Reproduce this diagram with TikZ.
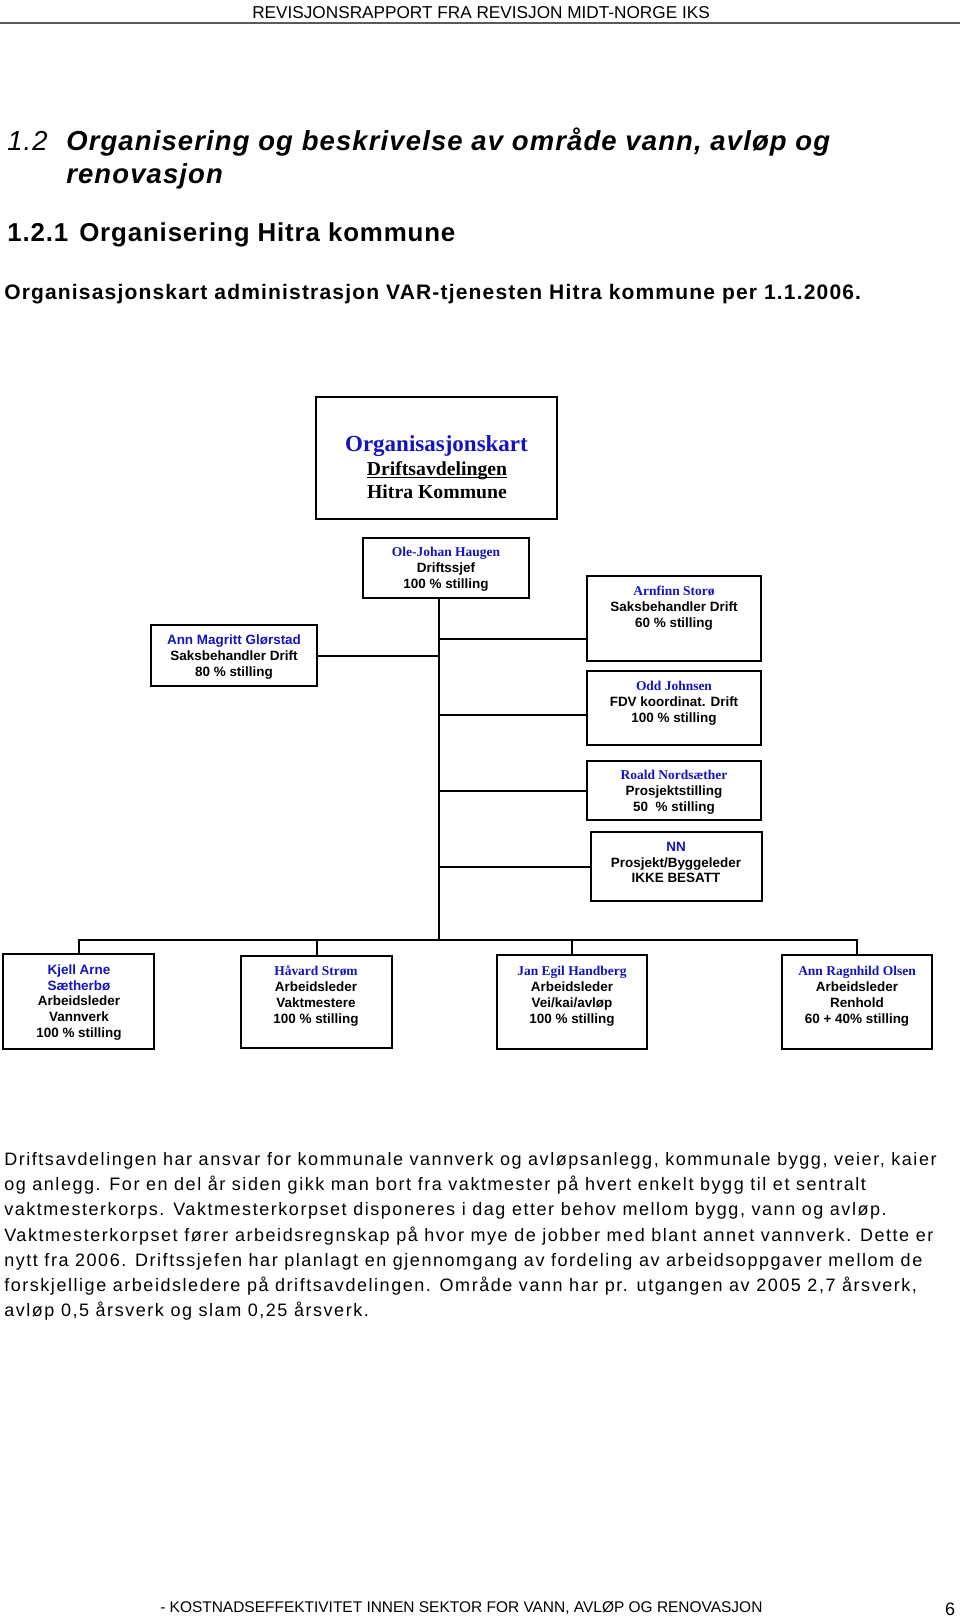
\documentclass[tikz,border=0pt]{standalone}
\usepackage{fontspec}
\setmainfont{Liberation Sans}
\newfontfamily\tms{Liberation Serif}
\newfontfamily\spaced[LetterSpace=8.6]{Liberation Sans}
\newfontfamily\orgfont[LetterSpace=5.6]{Liberation Sans}
\newfontfamily\headfont[LetterSpace=4.1]{Liberation Sans}
\newfontfamily\subheadfont[LetterSpace=3.3]{Liberation Sans}
\definecolor{nameblue}{RGB}{20,20,190}
\definecolor{rulegray}{RGB}{90,90,90}
\tikzset{
  box/.style={draw=black, line width=1.5pt, inner sep=0pt},
  conn/.style={draw=black, line width=1.5pt},
  boxtxt/.style={align=center, inner sep=0pt, font=\fontsize{10.1pt}{11.9pt}\selectfont\bfseries},
  plain/.style={anchor=base west, inner sep=0pt},
}
\newcommand{\nmT}[1]{\textcolor{nameblue}{\tms\bfseries #1}}
\newcommand{\nmA}[1]{\textcolor{nameblue}{#1}}
\newcommand{\lowul}[1]{\setbox0=\hbox{#1}\rlap{\rule[-1.7pt]{\wd0}{0.8pt}}\box0}
\begin{document}
\begin{tikzpicture}[x=0.75pt,y=-0.75pt]
\fill[white] (0,0) rectangle (960,1617);
\useasboundingbox (0,0) rectangle (960,1617);

% page header
\node[anchor=base, inner sep=0pt, font=\fontsize{12.9pt}{15pt}\selectfont] (hdr) at (481,18.3) {REVISJONSRAPPORT FRA REVISJON MIDT-NORGE IKS};
\draw[rulegray, line width=1.5pt] (0,23) -- (960,23);

% headings
\node[plain, font=\headfont\fontsize{20.6pt}{24pt}\selectfont\itshape] (h12num) at (7,150) {1.2};
\node[plain, font=\headfont\fontsize{20.6pt}{24pt}\selectfont\bfseries\itshape] (h12a) at (66,150) {Organisering og beskrivelse av område vann, avløp og};
\node[plain, font=\headfont\fontsize{20.6pt}{24pt}\selectfont\bfseries\itshape] (h12b) at (66,183.3) {renovasjon};
\node[plain, font=\subheadfont\fontsize{19.4pt}{23pt}\selectfont\bfseries] (h121num) at (7,241.7) {1.2.1};
\node[plain, font=\subheadfont\fontsize{19.4pt}{23pt}\selectfont\bfseries] (h121) at (79,241.7) {Organisering Hitra kommune};
\node[plain, font=\orgfont\fontsize{15.75pt}{18pt}\selectfont\bfseries] (orgline) at (4,299) {Organisasjonskart administrasjon VAR-tjenesten Hitra kommune per 1.1.2006.};

% title box
\node[box, minimum width=241*0.75pt, minimum height=122*0.75pt] (title) at (436.5,458) {};
\node[anchor=base, inner sep=0pt, font=\tms\bfseries\fontsize{17.25pt}{20pt}\selectfont, text=nameblue] (t1) at (436.5,451.6) {Organisasjonskart};
\node[anchor=base, inner sep=0pt, font=\tms\bfseries\fontsize{14.8pt}{17pt}\selectfont] (t2) at (437,475.5) {\lowul{Driftsavdelingen}};
\node[anchor=base, inner sep=0pt, font=\tms\bfseries\fontsize{14.8pt}{17pt}\selectfont] (t3) at (437,498.2) {Hitra Kommune};

% boxes
\node[box, minimum width=166*0.75pt, minimum height=60*0.75pt] (ole) at (446,568) {};
\node[boxtxt] (oleT) at (446,569.5) {\nmT{Ole-Johan Haugen}\\Driftssjef\\100 \% stilling};

\node[box, minimum width=166*0.75pt, minimum height=61*0.75pt] (annm) at (234,655.5) {};
\node[boxtxt] (annmT) at (234,657) {\nmA{Ann Magritt Glørstad}\\Saksbehandler Drift\\80 \% stilling};

\node[box, minimum width=174*0.75pt, minimum height=85*0.75pt] (arnfinn) at (674,618.5) {};
\node[boxtxt] (arnfinnT) at (674,608.5) {\nmT{Arnfinn Storø}\\Saksbehandler Drift\\60 \% stilling};

\node[box, minimum width=174*0.75pt, minimum height=74*0.75pt] (odd) at (674,708) {};
\node[boxtxt] (oddT) at (674,703) {\nmT{Odd Johnsen}\\FDV koordinat. Drift\\100 \% stilling};

\node[box, minimum width=174*0.75pt, minimum height=59*0.75pt] (roald) at (674,790.5) {};
\node[boxtxt] (roaldT) at (674,792.5) {\nmT{Roald Nordsæther}\\Prosjektstilling\\50\ \ \% stilling};

\node[box, minimum width=171*0.75pt, minimum height=69*0.75pt] (nn) at (676.5,866.5) {};
\node[boxtxt] (nnT) at (676,862.5) {\nmA{NN}\\Prosjekt/Byggeleder\\IKKE BESATT};

\node[box, minimum width=151*0.75pt, minimum height=95*0.75pt] (kjell) at (78.5,1001.5) {};
\node[boxtxt] (kjellT) at (79,1002.5) {\nmA{Kjell Arne}\\\nmA{Sætherbø}\\Arbeidsleder\\Vannverk\\100 \% stilling};

\node[box, minimum width=151*0.75pt, minimum height=92*0.75pt] (havard) at (316.5,1002) {};
\node[boxtxt] (havardT) at (316,996.3) {\nmT{Håvard Strøm}\\Arbeidsleder\\Vaktmestere\\100 \% stilling};

\node[box, minimum width=150*0.75pt, minimum height=94*0.75pt] (jan) at (572,1002) {};
\node[boxtxt] (janT) at (572,996.3) {\nmT{Jan Egil Handberg}\\Arbeidsleder\\Vei/kai/avløp\\100 \% stilling};

\node[box, minimum width=150*0.75pt, minimum height=94*0.75pt] (annr) at (857,1002) {};
\node[boxtxt] (annrT) at (857,996.3) {\nmT{Ann Ragnhild Olsen}\\Arbeidsleder\\Renhold\\60 + 40\% stilling};

% connectors
\coordinate (spine) at (439,939.5);
\draw[conn] (ole.south -| spine) -- (spine);
\draw[conn] (annm.east) -- (annm.east -| spine);
\draw[conn] ([yshift=-15.6pt]arnfinn.west) coordinate (a1) -- (a1 -| spine);
\draw[conn] ([yshift=-5.25pt]odd.west) coordinate (o1) -- (o1 -| spine);
\draw[conn] (roald.west) -- (roald.west -| spine);
\draw[conn] (nn.west) -- (nn.west -| spine);
\draw[conn] (kjell.north) |- (spine) -| (annr.north);
\draw[conn] (havard.north) -- (havard.north |- spine);
\draw[conn] (jan.north) -- (jan.north |- spine);

% paragraph
\begin{scope}[every node/.style={plain, font=\spaced\fontsize{13.5pt}{18pt}\selectfont}]
\node (p1) at (4,1165.5) {Driftsavdelingen har ansvar for kommunale vannverk og avløpsanlegg, kommunale bygg, veier, kaier};
\node (p2) at (4,1190.7) {og anlegg. For en del år siden gikk man bort fra vaktmester på hvert enkelt bygg til et sentralt};
\node (p3) at (4,1215.9) {vaktmesterkorps. Vaktmesterkorpset disponeres i dag etter behov mellom bygg, vann og avløp.};
\node (p4) at (4,1241.1) {Vaktmesterkorpset fører arbeidsregnskap på hvor mye de jobber med blant annet vannverk. Dette er};
\node (p5) at (4,1266.3) {nytt fra 2006. Driftssjefen har planlagt en gjennomgang av fordeling av arbeidsoppgaver mellom de};
\node (p6) at (4,1291.5) {forskjellige arbeidsledere på driftsavdelingen. Område vann har pr. utgangen av 2005 2,7 årsverk,};
\node (p7) at (4,1316.7) {avløp 0,5 årsverk og slam 0,25 årsverk.};
\end{scope}

% footer
\node[plain, font=\fontsize{11.6pt}{14pt}\selectfont] (ftr) at (160,1612) {- KOSTNADSEFFEKTIVITET INNEN SEKTOR FOR VANN, AVLØP OG RENOVASJON};
\node[anchor=base, inner sep=0pt, font=\fontsize{13.5pt}{16pt}\selectfont] (pg) at (950,1615) {6};
\end{tikzpicture}
\end{document}
